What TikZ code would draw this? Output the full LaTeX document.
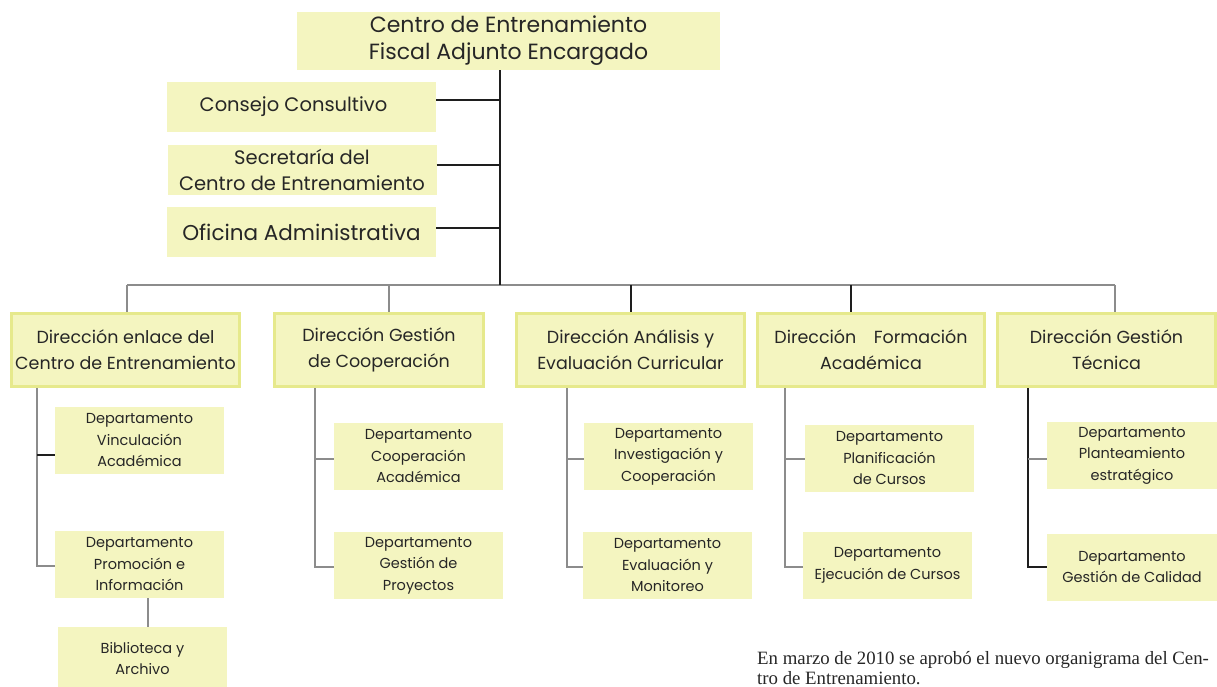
\documentclass[tikz,border=0pt]{standalone}
\usepackage{fontspec}
\setmainfont{Poppins}
\newfontfamily\capfont{Liberation Serif}
\definecolor{boxfill}{HTML}{F4F5C0}
\definecolor{boxedge}{HTML}{E6E98C}
\definecolor{linegray}{HTML}{8C8C8C}
\definecolor{lineblk}{HTML}{1E1E1E}
\definecolor{txt}{HTML}{262626}
\begin{document}
\begin{tikzpicture}[x=1pt,y=-1pt,
 box/.style={fill=boxfill, draw=none, inner sep=0pt, align=center, text=txt},
 topbox/.style={box, minimum width=423pt, minimum height=58pt, font=\fontsize{22}{27}\selectfont},
 sidebox/.style={box, minimum width=269pt, minimum height=50pt, font=\fontsize{19.5}{26}\selectfont},
 dirbox/.style={box, draw=boxedge, line width=3pt, minimum height=73pt, font=\fontsize{17.5}{26}\selectfont},
 deptbox/.style={box, minimum width=169pt, minimum height=67pt, font=\fontsize{14.5}{21.5}\selectfont},
 gl/.style={draw=linegray, line width=2pt},
 bl/.style={draw=lineblk, line width=2pt},
]
\useasboundingbox (0,0) rectangle (1217,687);

% top and staff boxes
\node[topbox] (top) at (508.5,41) {Centro de Entrenamiento\\Fiscal Adjunto Encargado};
\node[sidebox] (cc) at (301.5,107) {\hspace*{-16pt}Consejo Consultivo};
\node[sidebox] (sec) at (302,170) {Secretaría del\\Centro de Entrenamiento};
\node[sidebox, font=\fontsize{21.5}{26}\selectfont] (ofi) at (301.5,232) {Oficina Administrativa};

\coordinate (trunk) at (500,285);
\coordinate (b1) at (127,285);
\coordinate (b2) at (389,285);
\coordinate (b3) at (631,285);
\coordinate (b4) at (851,285);
\coordinate (b5) at (1115,285);

% direction boxes
\node[dirbox, minimum width=228pt] (d1) at (125.5,350) {Dirección enlace del\\Centro de Entrenamiento};
\node[dirbox, minimum width=209pt] (d2) at (379,350) {Dirección Gestión\\de Cooperación};
\node[dirbox, minimum width=228pt] (d3) at (630.5,350) {Dirección Análisis y\\Evaluación Curricular};
\node[dirbox, minimum width=227pt] (d4) at (871,350) {Dirección\hspace{1em}Formación\\Académica};
\node[dirbox, minimum width=218pt] (d5) at (1106.5,350) {Dirección Gestión\\Técnica};

% departments
\node[deptbox] (vin) at (139.5,440.5) {Departamento\\Vinculación\\Académica};
\node[deptbox] (pro) at (139.5,564.5) {Departamento\\Promoción e\\Información};
\node[deptbox, minimum height=63pt] (bib) at (142.5,658.5) {Biblioteca y\\Archivo};
\node[deptbox] (coo) at (418.5,456.5) {Departamento\\Cooperación\\Académica};
\node[deptbox] (gpr) at (418.5,565.5) {Departamento\\Gestión de\\Proyectos};
\node[deptbox] (inv) at (668.5,456.5) {Departamento\\Investigación y\\Cooperación};
\node[deptbox] (eva) at (667.5,565.5) {Departamento\\Evaluación y\\Monitoreo};
\node[deptbox] (pla) at (889.5,458.5) {Departamento\\Planificación\\de Cursos};
\node[deptbox] (eje) at (887.5,565.5) {Departamento\\Ejecución de Cursos};
\node[deptbox, minimum width=170pt] (pte) at (1132,455.5) {Departamento\\Planteamiento\\estratégico};
\node[deptbox, minimum width=170pt] (cal) at (1132,567) {Departamento\\Gestión de Calidad};

\coordinate (c1) at (37,0);
\coordinate (c2) at (315,0);
\coordinate (c3) at (567,0);
\coordinate (c4) at (785,0);
\coordinate (c5) at (1028,0);

% main connectors
\draw[gl] (b1) -- (b5);
\draw[bl] (top.south -| trunk) -- (trunk);
\draw[bl] ([yshift=7pt]cc.east) -- ([yshift=7pt]cc.east -| trunk);
\draw[bl] ([yshift=5pt]sec.east) -- ([yshift=5pt]sec.east -| trunk);
\draw[bl] ([yshift=4pt]ofi.east) -- ([yshift=4pt]ofi.east -| trunk);
\draw[gl] (b1) -- (b1 |- d1.north);
\draw[gl] (b2) -- (b2 |- d2.north);
\draw[bl] (b3) -- (b3 |- d3.north);
\draw[bl] (b4) -- (b4 |- d4.north);
\draw[gl] (b5) -- (b5 |- d5.north);

% department connectors
\draw[gl] (d1.south -| c1) |- ([yshift=-1.5pt]pro.west);
\draw[bl] ([yshift=-14.5pt]vin.west -| c1) -- ([yshift=-14.5pt]vin.west);
\draw[gl] (pro.south -| 148,0) -- (bib.north -| 148,0);
\draw[gl] (d2.south -| c2) |- ([yshift=-1.5pt]gpr.west);
\draw[gl] ([yshift=-2.5pt]coo.west -| c2) -- ([yshift=-2.5pt]coo.west);
\draw[gl] (d3.south -| c3) |- ([yshift=-1.5pt]eva.west);
\draw[gl] ([yshift=-2.5pt]inv.west -| c3) -- ([yshift=-2.5pt]inv.west);
\draw[gl] (d4.south -| c4) |- ([yshift=-1.5pt]eje.west);
\draw[gl] ([yshift=-0.5pt]pla.west -| c4) -- ([yshift=-0.5pt]pla.west);
\draw[bl] (d5.south -| c5) |- (cal.west);
\draw[gl] ([yshift=-3.5pt]pte.west -| c5) -- ([yshift=-3.5pt]pte.west);

% caption
\node[anchor=west, inner sep=0pt, font=\capfont\fontsize{18.8}{20}\selectfont, text=txt, align=left] (cap) at (757,668)
 {En marzo de 2010 se aprobó el nuevo organigrama del Cen-\\tro de Entrenamiento.};
\end{tikzpicture}
\end{document}
